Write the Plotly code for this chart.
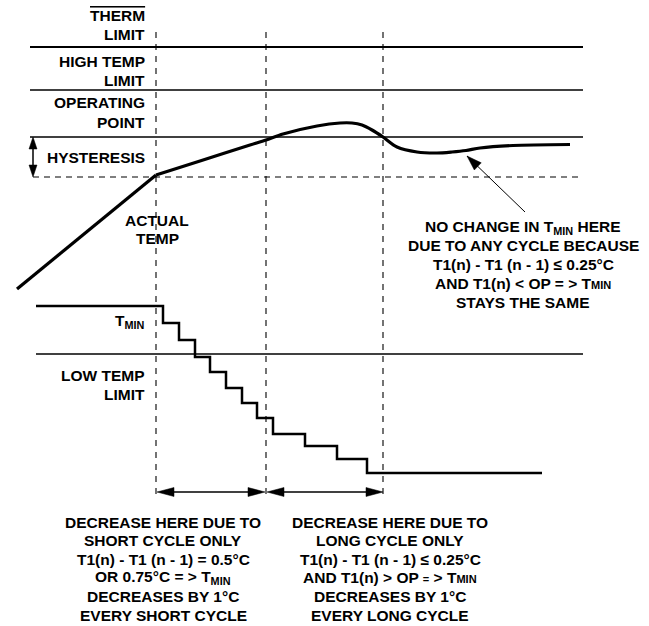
import math
import plotly.graph_objects as go

W, H = 649, 626

# diagram units: x = time, y = temperature (up = hotter), 1 unit ~ 1 px
level_keys = ["therm", "high", "op", "hyst", "low"]
level_y = [579, 536, 489, 449, 272]
level_start = [30, 30, 30, 33, 36]
level_end = [583, 583, 583, 583, 583]

cycle_t = [156, 266, 383]          # boundaries of the cycle regions
cycle_top, cycle_bottom = 594, 129

# actual temperature
rise_t = [17, 156]
rise_v = [337, 451]
settle_t = [156, 200, 250, 266, 283, 317, 340, 352, 362, 372, 383, 397, 417, 437, 452, 466, 480, 513, 570]
settle_v = [451, 465, 481, 486, 492, 500, 503, 503, 501, 496, 489, 479, 474, 473, 474, 475.5, 478, 480.5, 481.5]

# T_MIN staircase
tmin_t = [36, 163, 179, 195, 210, 226, 242, 257, 273, 305, 337, 367, 542]
tmin_v = [320, 303, 286, 269, 254, 238, 223, 208, 192, 180, 167, 153, 153]

# arrows
span_y = 134
pointer_from = (525, 414)
pointer_to = (467, 470)
hyst_x = 33

# texts
sm = "<span style='font-size:11px'>%s</span>"
therm_lines = ["<span style='text-decoration:overline'>THERM</span>", "LIMIT"]
high_lines = ["HIGH TEMP", "LIMIT"]
op_lines = ["OPERATING", "POINT"]
hyst_lines = ["HYSTERESIS"]
actual_lines = ["ACTUAL", "TEMP"]
tmin_lines = ["T<sub>MIN</sub>"]
low_lines = ["LOW TEMP", "LIMIT"]
note_lines = ["NO CHANGE IN T<sub>MIN</sub> HERE", "DUE TO ANY CYCLE BECAUSE",
              "T1(n) - T1 (n - 1) ≤ 0.25°C", "AND T1(n) &lt; OP = &gt; T" + sm % "MIN",
              "STAYS THE SAME"]
short_lines = ["DECREASE HERE DUE TO", "SHORT CYCLE ONLY", "T1(n) - T1 (n - 1) = 0.5°C",
               "OR 0.75°C = &gt; T<sub>MIN</sub>", "DECREASES BY 1°C", "EVERY SHORT CYCLE"]
long_lines = ["DECREASE HERE DUE TO", "LONG CYCLE ONLY", "T1(n) - T1 (n - 1) ≤ 0.25°C",
              "AND T1(n) &gt; OP " + sm % "=" + " &gt; T" + sm % "MIN",
              "DECREASES BY 1°C", "EVERY LONG CYCLE"]

FONT = "Liberation Sans, Arial, Helvetica, sans-serif"
INK = "#000000"

fig = go.Figure()


def seg(x, y, width=1.5, dash=None, shape="linear", smoothing=None):
    line = dict(color=INK, width=width, dash=dash, shape=shape)
    if smoothing is not None:
        line["smoothing"] = smoothing
    fig.add_trace(go.Scatter(x=x, y=y, mode="lines", hoverinfo="skip", line=line))


def head(tip, tail, length, half):
    dx, dy = tip[0] - tail[0], tip[1] - tail[1]
    n = math.hypot(dx, dy)
    ux, uy = dx / n, dy / n
    bx, by = tip[0] - ux * length, tip[1] - uy * length
    px, py = -uy * half, ux * half
    fig.add_trace(go.Scatter(
        x=[tip[0], bx + px, bx - px, tip[0]], y=[tip[1], by + py, by - py, tip[1]],
        mode="lines", fill="toself", fillcolor=INK, line=dict(color=INK, width=0.5),
        hoverinfo="skip"))


# limit lines
for k, y, x0, x1 in zip(level_keys, level_y, level_start, level_end):
    if k == "hyst":
        seg([x0, x1], [y, y], width=1.2, dash="6px,5px")
    else:
        seg([x0, x1], [y, y], width=2 if k == "therm" else 1.5)

# cycle boundaries
for t in cycle_t:
    seg([t, t], [cycle_top, cycle_bottom], width=1.1, dash="6px,6px")

# curves
seg(rise_t, rise_v, width=3.2)
seg(settle_t, settle_v, width=3.2, shape="spline", smoothing=0.8)
seg(tmin_t, tmin_v, width=2.5, shape="hv")

# hysteresis double arrow
op_y, hy_y = level_y[2], level_y[3]
seg([hyst_x, hyst_x], [op_y - 6, hy_y + 6], width=1.5)
head((hyst_x, op_y), (hyst_x, hy_y), 12, 4)
head((hyst_x, hy_y), (hyst_x, op_y), 12, 4)

# cycle span arrows
for a, b in [(cycle_t[0] + 1, cycle_t[1] - 1), (cycle_t[1] + 1, cycle_t[2])]:
    seg([a + 8, b - 8], [span_y, span_y], width=1.5)
    head((a, span_y), (b, span_y), 17, 4.5)
    head((b, span_y), (a, span_y), 17, 4.5)

# pointer arrow
seg([pointer_from[0], pointer_to[0]], [pointer_from[1], pointer_to[1]], width=1)
head(pointer_to, pointer_from, 15, 5)


def label(x, y_first, lines, step=19, xanchor="right", size=15.5):
    for i, txt in enumerate(lines):
        fig.add_annotation(x=x, y=y_first - i * step, text="<b>%s</b>" % txt,
                           showarrow=False, xanchor=xanchor, yanchor="middle",
                           font=dict(family=FONT, size=size, color=INK))


label(147, 611, therm_lines)
label(147, 565, high_lines)
label(147, 524, op_lines, step=20)
label(147, 469, hyst_lines)
label(157, 406, actual_lines, step=18, xanchor="center")
label(147, 305, tmin_lines)
label(147, 251, low_lines)
label(523, 399, note_lines, step=18.75, xanchor="center")
label(163, 104, short_lines, step=18.6, xanchor="center")
label(390, 104, long_lines, step=18.6, xanchor="center")

fig.update_layout(
    width=W, height=H, margin=dict(l=0, r=0, t=0, b=0),
    paper_bgcolor="white", plot_bgcolor="white", showlegend=False,
    xaxis=dict(range=[0, W], visible=False, fixedrange=True),
    yaxis=dict(range=[0, H], visible=False, fixedrange=True),
)

fig.write_html("out.html", config={"displayModeBar": False},
               post_script="document.body.style.margin='0';")
